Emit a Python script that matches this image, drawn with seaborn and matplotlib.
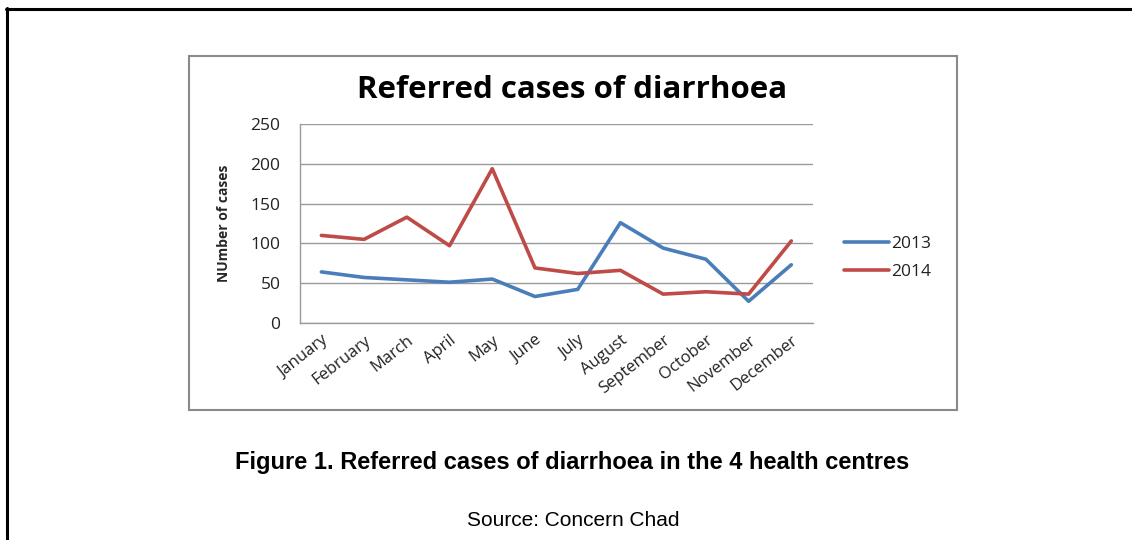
import matplotlib
matplotlib.use("Agg")
import matplotlib.pyplot as plt
import seaborn as sns
import pandas as pd
from matplotlib.patches import Rectangle
from matplotlib.lines import Line2D

months = ["January", "February", "March", "April", "May", "June", "July",
          "August", "September", "October", "November", "December"]
cases_2013 = [64, 57, 54, 51, 55, 33, 42, 126, 94, 80, 27, 73]
cases_2014 = [110, 105, 133, 97, 194, 69, 62, 66, 36, 39, 36, 103]
years = ["2013", "2014"]
yticks = [0, 50, 100, 150, 200, 250]

df = pd.DataFrame({
    "month": months * 2,
    "cases": cases_2013 + cases_2014,
    "year": [years[0]] * 12 + [years[1]] * 12,
})
df["pos"] = list(range(12)) * 2

sns.set_theme(style="white")
plt.rcParams["font.family"] = ["Open Sans", "DejaVu Sans"]

W, H = 1132, 540
fig = plt.figure(figsize=(W / 100, H / 100), dpi=100)

def fx(x):
    return x / W

def fy(y):
    return 1 - y / H

# outer page frame (top and left)
fig.add_artist(Line2D([fx(6), fx(1132)], [fy(8.5), fy(8.5)], color="black", lw=2.2))
fig.add_artist(Line2D([fx(6.5), fx(6.5)], [fy(8), fy(540)], color="black", lw=2.2))

# chart box
fig.add_artist(Rectangle((fx(188.5), fy(409.5)), fx(956.5) - fx(188.5), fy(55.5) - fy(409.5),
                         fill=False, edgecolor="#8a8a8a", lw=1.5, transform=fig.transFigure))

ax = fig.add_axes([fx(300), fy(322.7), fx(812.7) - fx(300), fy(124.3) - fy(322.7)])
palette = {"2013": "#4A7EBB", "2014": "#BE4B48"}
sns.lineplot(data=df, x="pos", y="cases", hue="year", palette=palette, lw=2.6,
             ax=ax, legend=False, sort=False)

ax.set_xlim(-0.5, 11.5)
ax.set_ylim(0, 250)
ax.set_yticks(yticks)
ax.set_yticklabels([str(v) for v in yticks], fontsize=12.5, color="#222222")
ax.set_xticks(range(12))
ax.set_xticklabels(months, rotation=38, ha="right", rotation_mode="anchor",
                   fontsize=12, color="#222222")
ax.tick_params(axis="x", length=0, pad=7)
ax.tick_params(axis="y", length=0, pad=14)
ax.grid(axis="y", color="#9a9a9a", lw=1)
ax.grid(axis="x", visible=False)
for s in ["top", "right"]:
    ax.spines[s].set_visible(False)
for s in ["left", "bottom"]:
    ax.spines[s].set_color("#9a9a9a")
    ax.spines[s].set_linewidth(1)
ax.set_xlabel("")
ax.set_ylabel("NUmber of cases", fontsize=10, fontweight="bold",
              fontstretch="condensed")
ax.yaxis.set_label_coords((231 - 300) / (812.7 - 300), 0.5)

fig.text(fx(572), fy(90), "Referred cases of diarrhoea", ha="center", va="center",
         fontsize=22.5, fontweight="bold", color="black")

# legend
handles = [Line2D([], [], color=palette[y], lw=2.6) for y in years]
leg = fig.legend(handles, years, loc="center left", bbox_to_anchor=(fx(828), fy(258)),
                 frameon=False, fontsize=12.5, handlelength=2.6, handletextpad=0.12,
                 labelspacing=0.7)
for t in leg.get_texts():
    t.set_color("#222222")

fig.text(fx(572), fy(462), "Figure 1. Referred cases of diarrhoea in the 4 health centres",
         ha="center", va="center", fontsize=17, fontweight="bold",
         family="Liberation Sans", color="black")
fig.text(fx(573), fy(520), "Source: Concern Chad", ha="center", va="center",
         fontsize=15, family="Liberation Sans", color="black")

fig.savefig("out.png", dpi=100, facecolor="white")
